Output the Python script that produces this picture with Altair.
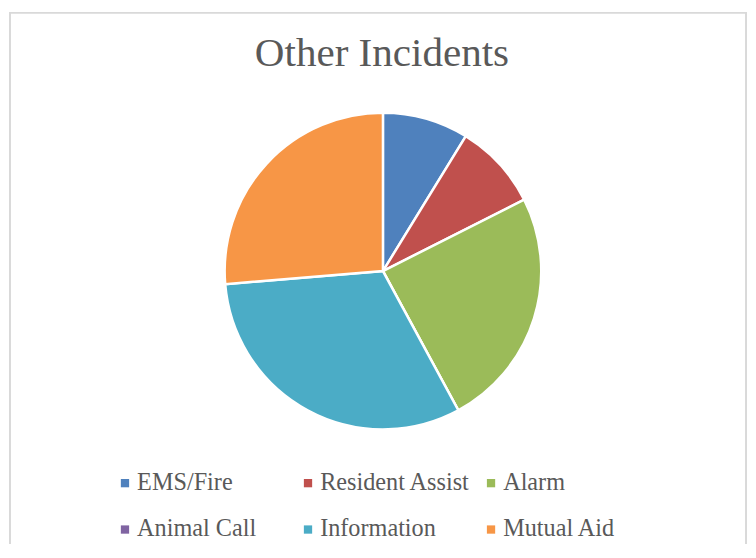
import altair as alt
import pandas as pd

# Data
categories = ["EMS/Fire", "Resident Assist", "Alarm", "Animal Call", "Information", "Mutual Aid"]
counts = [5, 5, 14, 0, 18, 15]
colors = ["#4F81BD", "#C0504D", "#9BBB59", "#8064A2", "#4BACC6", "#F79646"]
title_text = "Other Incidents"

# Legend is filled column by column (2 rows x 3 columns); this order makes it read row by row
legend_order = ["EMS/Fire", "Animal Call", "Resident Assist", "Information", "Alarm", "Mutual Aid"]
legend_colors = [colors[categories.index(c)] for c in legend_order]

W, H = 746, 538
FONT = "Liberation Serif"
GREY = "#595959"

df = pd.DataFrame({"category": categories, "count": counts, "idx": list(range(len(categories)))})

pie = alt.Chart(df).mark_arc(outerRadius=160, stroke="white", strokeWidth=2.5).encode(
    theta=alt.Theta("count:Q", stack=True),
    order=alt.Order("idx:Q"),
    color=alt.Color(
        "category:N",
        sort=legend_order,
        scale=alt.Scale(domain=legend_order, range=legend_colors),
        legend=alt.Legend(
            title=None,
            orient="none",
            legendX=105,
            legendY=464,
            columns=3,
            gridAlign="all",
            columnPadding=8,
            rowPadding=22,
            symbolType="square",
            symbolSize=70,
            symbolStrokeWidth=0,
            labelFont=FONT,
            labelFontSize=24.5,
            labelColor=GREY,
            labelOffset=0,
            labelLimit=300,
            padding=0,
        ),
    ),
    x=alt.value(378),
    y=alt.value(262),
    tooltip=["category:N", "count:Q"],
)

title_df = pd.DataFrame({"title": [title_text]})
title = alt.Chart(title_df).mark_text(
    font=FONT, fontSize=41.5, color=GREY, align="center", baseline="alphabetic"
).encode(text="title:N", x=alt.value(W / 2 + 4), y=alt.value(55))

frame_df = pd.DataFrame({"a": [0]})
frame_style = dict(color="#d9d9d9", strokeWidth=2)
left = alt.Chart(frame_df).mark_rule(**frame_style).encode(x=alt.value(1), y=alt.value(0), y2=alt.value(H))
right = alt.Chart(frame_df).mark_rule(**frame_style).encode(x=alt.value(W - 1), y=alt.value(0), y2=alt.value(H))
top = alt.Chart(frame_df).mark_rule(**frame_style).encode(x=alt.value(0), x2=alt.value(W), y=alt.value(1))

chart = alt.layer(left, right, top, title, pie).properties(
    width=W,
    height=H,
    padding=0,
).configure_view(stroke=None)

chart.save("out.html", embed_options={"renderer": "svg", "actions": False})
